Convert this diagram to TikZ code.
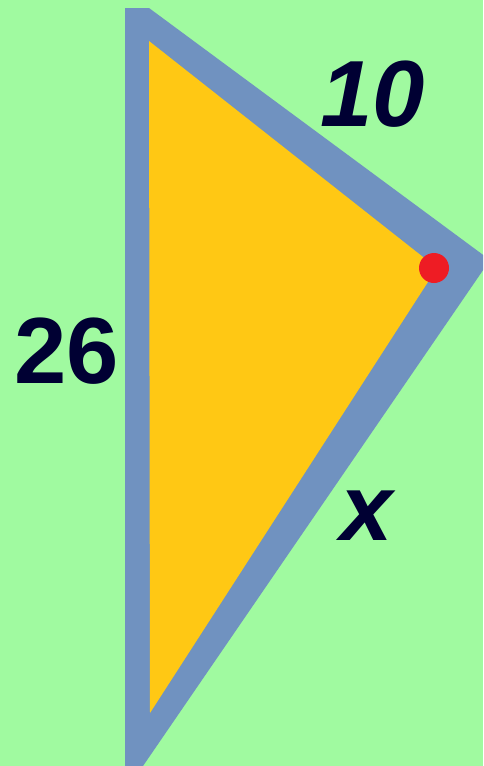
\documentclass[tikz,border=0pt]{standalone}
\usepackage{fontspec}
\newfontfamily\labelfont{Liberation Sans}
\definecolor{meadow}{HTML}{A0FAA0}
\definecolor{edgeblue}{HTML}{7092C0}
\definecolor{areafill}{HTML}{FFC814}
\definecolor{vertexred}{HTML}{EE1C24}
\definecolor{ink}{HTML}{000033}

\begin{document}
\begin{tikzpicture}[x=1pt,y=-1pt,
sidelabel/.style={text=ink,inner sep=0pt,
  node font=\labelfont\bfseries\fontsize{94}{94}\selectfont
}]
\useasboundingbox (0,0) rectangle (483,766);
\fill[meadow] (0,0) rectangle (483,766);
\clip (0,0) rectangle (483,766);

% border and inside of the triangle
\fill[edgeblue] (125,8) -- (149,8) -- (490,260) -- (143,766) -- (125,766) -- cycle;
\fill[areafill] (149,41) -- (437,268) -- (150,713) -- cycle;
\fill[vertexred] (434,268) circle (15);

\node (top) [sidelabel, font=\itshape] at (373,94) {10};

\node (left) [sidelabel] at (67,351) {26};

\node (slant) [sidelabel, font=\itshape] at (367,516) {x};
\end{tikzpicture}
\end{document}
